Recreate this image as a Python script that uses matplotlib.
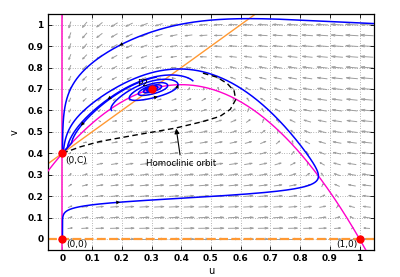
import numpy as np
import matplotlib
matplotlib.use('Agg')
import matplotlib.pyplot as plt
from matplotlib.collections import LineCollection

# ---- model parameters (read from nullclines / equilibria) ----
A = 0.2   # half saturation
Q = 0.5   # predation rate
C = 0.4   # alternative food  -> equilibrium (0,C)
S = 0.1   # predator intrinsic growth

# equilibria and labels
eq_u = [0.0, 0.0, 1.0, 0.3]
eq_v = [0.0, 0.4, 0.0, 0.7]
eq_text = ['(0,0)', '(0,C)', '(1,0)', 'P2']
eq_text_u = [0.013, 0.008, 0.922, 0.25]
eq_text_v = [-0.027, 0.368, -0.027, 0.727]

# trajectory initial conditions, forward and backward integration times
traj_u0 = [1.05, 1e-13, 0.165, 0.158, 0.10]
traj_v0 = [1.005, 0.01, 0.60, 0.657, 0.585]
traj_Tf = [400, 600, 0, 400, 400]
traj_Tb = [0, 0, 600, 20, 18]

# homoclinic orbit (dashed) points
homo_u = [0.0, 0.06, 0.126, 0.25, 0.379, 0.473, 0.53, 0.565, 0.583, 0.578, 0.555, 0.52, 0.47]
homo_v = [0.4, 0.43, 0.455, 0.486, 0.517, 0.548, 0.572, 0.605, 0.65, 0.69, 0.725, 0.755, 0.775]

# arrow markers on trajectories (with index of the trajectory they sit on)
arrow_u = [0.2, 0.18, 0.16, 0.31, 0.43, 0.047]
arrow_v = [0.915, 0.174, 0.66, 0.66, 0.668, 0.564]
arrow_traj = [0, 1, 3, 2, 2, 4]

ticks = [0, 0.1, 0.2, 0.3, 0.4, 0.5, 0.6, 0.7, 0.8, 0.9, 1]
tick_labels = ['0', '0.1', '0.2', '0.3', '0.4', '0.5', '0.6', '0.7', '0.8', '0.9', '1']


def rhs(u, v):
    du = u * (1 - u) - Q * u * v / (u + A)
    dv = S * v * (1 - v / (u + C))
    return du, dv


def integrate(u, v, T, dt=0.05):
    us, vs = [u], [v]
    n = int(abs(T) / dt)
    if T < 0:
        dt = -dt
    for _ in range(n):
        k1 = rhs(u, v)
        k2 = rhs(u + dt / 2 * k1[0], v + dt / 2 * k1[1])
        k3 = rhs(u + dt / 2 * k2[0], v + dt / 2 * k2[1])
        k4 = rhs(u + dt * k3[0], v + dt * k3[1])
        u_new = u + dt / 6 * (k1[0] + 2 * k2[0] + 2 * k3[0] + k4[0])
        v_new = v + dt / 6 * (k1[1] + 2 * k2[1] + 2 * k3[1] + k4[1])
        if dt > 0:
            near = np.hypot(u_new - eq_u[1], v_new - eq_v[1]) < 0.02
            turning = (u < 0.15 and v > eq_v[1] and u_new > u and us[-2:-1] and us[-2] > u)
            if near or turning:
                # trajectory falls into the saddle-node (0,C)
                us.append(eq_u[1])
                vs.append(eq_v[1])
                break
        u, v = u_new, v_new
        us.append(u)
        vs.append(v)
    return np.array(us), np.array(vs)


fig = plt.figure(figsize=(4.0, 2.77), dpi=100)
ax = fig.add_axes([0.119, 0.0986, 0.817, 0.851])
ax.set_xlim(-0.05, 1.05)
ax.set_ylim(-0.05, 1.05)

# grid
for t in ticks:
    ax.axvline(t, color='0.45', lw=0.5, ls=(0, (1, 2.5)), zorder=0)
    ax.axhline(t, color='0.45', lw=0.5, ls=(0, (1, 2.5)), zorder=0)

# vector field (Matlab-like line arrows)
gu = 0.025 + 0.05 * np.arange(21)
gv = 0.05 * np.arange(21)
GU, GV = np.meshgrid(gu, gv)
FU, FV = rhs(GU, GV)
mag = np.hypot(FU, FV)
mag[mag == 0] = 1e-12
L = 0.045 * (mag / mag.max()) ** 0.35
du = FU / mag * L
dv = FV / mag * L
segs = []
alpha, beta = 0.33, 0.33
for x0, y0, a, b in zip(GU.ravel(), GV.ravel(), du.ravel(), dv.ravel()):
    xt, yt = x0 - a / 2, y0 - b / 2
    xh, yh = x0 + a / 2, y0 + b / 2
    segs.append([(xt, yt), (xh, yh)])
    segs.append([(xh - alpha * (a + beta * b), yh - alpha * (b - beta * a)), (xh, yh),
                 (xh - alpha * (a - beta * b), yh - alpha * (b + beta * a))])
ax.add_collection(LineCollection(segs, colors='0.62', linewidths=0.7, zorder=1))

# nullclines
ax.axvline(0, color='#ff33cc', lw=1.3, zorder=2)
ax.axhline(0, color='#ff9933', lw=1.6, ls=(0, (4, 1.5)), zorder=2)
xx = np.linspace(-0.05, 1.05, 300)
ax.plot(xx, xx + C, color='#ff9933', lw=1.0, zorder=2)
ax.plot(xx, (1 - xx) * (xx + A) / Q, color='#ff00cc', lw=1.0, zorder=3)

# trajectories
trajs = []
for u0, v0, Tf, Tb in zip(traj_u0, traj_v0, traj_Tf, traj_Tb):
    fu, fv = integrate(u0, v0, Tf)
    if Tb > 0:
        bu, bv = integrate(u0, v0, -Tb)
        tu = np.concatenate([bu[::-1], fu[1:]])
        tv = np.concatenate([bv[::-1], fv[1:]])
    else:
        tu, tv = fu, fv
    trajs.append((tu, tv))
    ax.plot(tu, tv, color='#0000ff', lw=1.1, zorder=4)

# homoclinic orbit
ax.plot(homo_u, homo_v, color='k', lw=1.0, ls=(0, (4, 2.5)), zorder=5)

# arrowheads on trajectories
for au, av, k in zip(arrow_u, arrow_v, arrow_traj):
    tu, tv = trajs[k]
    d = (tu[:-1] - au) ** 2 + ((tv[:-1] - av) * 0.72) ** 2
    i = int(np.argmin(d))
    j = i
    while j < len(tu) - 1 and np.hypot(tu[j] - tu[i], tv[j] - tv[i]) < 0.012:
        j += 1
    ax.annotate('', xy=(tu[j], tv[j]), xytext=(tu[i], tv[i]),
                arrowprops=dict(arrowstyle='-|>', color='k', lw=0, mutation_scale=7,
                                shrinkA=0, shrinkB=0), zorder=6)

# equilibria
ax.plot(eq_u, eq_v, 'o', color='#ff0000', ms=5, zorder=7, clip_on=False)
for t, x, y in zip(eq_text, eq_text_u, eq_text_v):
    ax.text(x, y, t, fontsize=6.5, ha='left', va='center', zorder=8)

ax.annotate('Homoclinic orbit', xy=(0.383, 0.515), xytext=(0.40, 0.352),
            fontsize=6.2, ha='center', va='center',
            arrowprops=dict(arrowstyle='-|>', color='k', lw=0.8, mutation_scale=7,
                            shrinkA=1, shrinkB=0), zorder=8)

ax.set_xticks(ticks)
ax.set_yticks(ticks)
ax.set_xticklabels(tick_labels, fontsize=6.5, fontweight='bold')
ax.set_yticklabels(tick_labels, fontsize=6.5, fontweight='bold')
ax.tick_params(direction='in', length=3, width=0.6, top=True, right=True, pad=3)
for sp in ax.spines.values():
    sp.set_linewidth(0.9)
ax.set_xlabel('u', fontsize=7, labelpad=2)
ax.set_ylabel('v', fontsize=7, labelpad=6)

fig.savefig('out.png', dpi=100)
